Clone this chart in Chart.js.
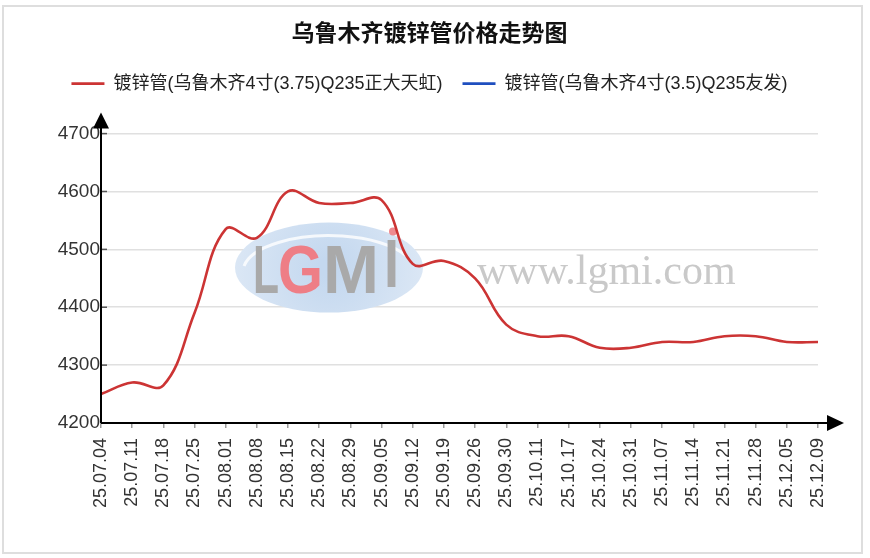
<!DOCTYPE html>
<html>
<head>
<meta charset="utf-8">
<title>乌鲁木齐镀锌管价格走势图</title>
<script src="https://cdn.jsdelivr.net/npm/chart.js@4.4.1/dist/chart.umd.min.js"></script>
<style>
  html, body { margin: 0; padding: 0; background: #fff; }
  #wrap { width: 870px; height: 558px; position: relative; }
</style>
</head>
<body>
<div id="wrap"><canvas id="priceChart"></canvas></div>
<script>
// дата / цены (юань за тонну)
const dates = [
  "25.07.04", "25.07.11", "25.07.18", "25.07.25", "25.08.01", "25.08.08",
  "25.08.15", "25.08.22", "25.08.29", "25.09.05", "25.09.12", "25.09.19",
  "25.09.26", "25.09.30", "25.10.11", "25.10.17", "25.10.24", "25.10.31",
  "25.11.07", "25.11.14", "25.11.21", "25.11.28", "25.12.05", "25.12.09"
];
const zhengdaPrices = [
  4250, 4270, 4265, 4390, 4535, 4520,
  4600, 4580, 4580, 4585, 4475, 4480,
  4450, 4370, 4350, 4350, 4330, 4330,
  4340, 4340, 4350, 4350, 4340, 4340
];
const youfaPrices = [];
const yMin = 4200;
const yMax = 4700;
const yStep = 100;

const FONT = '"Liberation Sans", "Noto Sans CJK SC", sans-serif';

// рамка вокруг всего графика
const framePlugin = {
  id: 'frame',
  beforeDraw(chart) {
    const ctx = chart.ctx;
    ctx.save();
    ctx.fillStyle = '#fff';
    ctx.fillRect(0, 0, chart.width, chart.height);
    ctx.strokeStyle = '#dedede';
    ctx.lineWidth = 2;
    ctx.strokeRect(3, 6, 859, 547);
    ctx.restore();
  }
};

// водяной знак LGMI
const watermarkPlugin = {
  id: 'watermark',
  beforeDatasetsDraw(chart) {
    const ctx = chart.ctx;
    const a = chart.chartArea;
    const cx = a.left + 228, cy = a.top + 134;
    ctx.save();
    const g = ctx.createRadialGradient(cx, cy, 10, cx, cy, 95);
    g.addColorStop(0, '#c4d8ef');
    g.addColorStop(1, '#dbe7f5');
    ctx.fillStyle = g;
    ctx.beginPath();
    ctx.ellipse(cx, cy, 94, 45, 0, 0, Math.PI * 2);
    ctx.fill();
    ctx.strokeStyle = 'rgba(255,255,255,0.8)';
    ctx.lineWidth = 3;
    ctx.beginPath();
    ctx.ellipse(cx, cy + 4, 86, 36, 0, Math.PI * 1.05, Math.PI * 1.85);
    ctx.stroke();

    ctx.font = 'bold 68px ' + FONT;
    ctx.textBaseline = 'alphabetic';
    const base = cy + 25;
    ctx.fillStyle = '#a9a9a9';
    ctx.fillText('L', cx - 76, base, 26);
    ctx.fillStyle = '#ee7e86';
    ctx.fillText('G', cx - 51, base, 45);
    ctx.fillStyle = '#a9a9a9';
    ctx.fillText('M', cx - 6, base, 56);
    ctx.fillText('I', cx + 55, base - 6, 15);
    ctx.fillStyle = '#ee8a90';
    ctx.beginPath();
    ctx.arc(cx + 64, cy - 36, 4, 0, Math.PI * 2);
    ctx.fill();

    ctx.font = '42px "Liberation Serif", "DejaVu Serif", serif';
    ctx.fillStyle = '#c9c9c9';
    ctx.fillText('www.lgmi.com', a.left + 376, a.top + 150, 260);
    ctx.restore();
  }
};

// оси со стрелками и мелкие засечки
const axesPlugin = {
  id: 'arrowAxes',
  afterDraw(chart) {
    const ctx = chart.ctx;
    const {left, right, top, bottom} = chart.chartArea;
    const ys = chart.scales.y;
    ctx.save();
    ctx.strokeStyle = '#555';
    ctx.lineWidth = 1.5;
    ys.ticks.forEach(function (t) {
      const y = ys.getPixelForValue(t.value);
      ctx.beginPath();
      ctx.moveTo(left, y);
      ctx.lineTo(left + 6, y);
      ctx.stroke();
    });
    ctx.strokeStyle = '#000';
    ctx.lineWidth = 2;
    ctx.beginPath();
    ctx.moveTo(left, bottom);
    ctx.lineTo(right + 10, bottom);
    ctx.moveTo(left, bottom);
    ctx.lineTo(left, top - 6);
    ctx.stroke();
    ctx.fillStyle = '#000';
    ctx.beginPath();
    ctx.moveTo(left, top - 21);
    ctx.lineTo(left - 8, top - 5);
    ctx.lineTo(left + 8, top - 5);
    ctx.closePath();
    ctx.fill();
    ctx.beginPath();
    ctx.moveTo(right + 26, bottom);
    ctx.lineTo(right + 9, bottom - 8);
    ctx.lineTo(right + 9, bottom + 8);
    ctx.closePath();
    ctx.fill();
    ctx.restore();
  }
};

const ctx = document.getElementById('priceChart').getContext('2d');
const priceChart = new Chart(ctx, {
  type: 'line',
  data: {
    labels: dates,
    datasets: [{
      label: '镀锌管(乌鲁木齐4寸(3.75)Q235正大天虹)',
      data: zhengdaPrices,
      borderColor: '#cc3434',
      backgroundColor: '#cc3434',
      borderWidth: 2.6,
      pointRadius: 0,
      tension: 0.4,
      fill: false
    }, {
      label: '镀锌管(乌鲁木齐4寸(3.5)Q235友发)',
      data: youfaPrices,
      borderColor: '#1f4fbf',
      backgroundColor: '#1f4fbf',
      borderWidth: 2.6,
      pointRadius: 0,
      tension: 0.4,
      fill: false
    }]
  },
  options: {
    responsive: true,
    maintainAspectRatio: false,
    animation: false,
    layout: { padding: { left: 41, right: 52, top: 8, bottom: 5 } },
    plugins: {
      title: {
        display: true,
        text: '乌鲁木齐镀锌管价格走势图',
        color: '#111',
        font: { family: FONT, size: 23, weight: 'bold' },
        padding: { top: 13, bottom: 6 }
      },
      legend: {
        display: true,
        labels: {
          color: '#222',
          font: { family: FONT, size: 18 },
          usePointStyle: true,
          pointStyle: 'line',
          pointStyleWidth: 33,
          padding: 20
        }
      },
      tooltip: { enabled: false }
    },
    scales: {
      x: {
        afterFit: function (s) { s.height = 130; },
        border: { display: false },
        grid: {
          drawOnChartArea: false,
          drawTicks: true,
          tickLength: 5,
          color: '#9a9a9a',
          lineWidth: 1.5
        },
        ticks: {
          autoSkip: false,
          minRotation: 90,
          maxRotation: 90,
          padding: 10,
          color: '#333',
          font: { family: FONT, size: 18 }
        }
      },
      y: {
        min: yMin,
        max: yMax,
        afterFit: function (s) { s.width = 60; },
        border: { display: false },
        grid: {
          drawTicks: false,
          color: '#e0e0e0',
          lineWidth: 1.5
        },
        ticks: {
          stepSize: yStep,
          padding: 1,
          color: '#333',
          font: { family: FONT, size: 19 },
          callback: function (v) { return String(v); }
        }
      },
      // пустая ось сверху — просто отступ между легендой и графиком
      top: {
        type: 'category',
        position: 'top',
        afterFit: function (s) { s.height = 31; },
        border: { display: false },
        grid: { display: false, drawTicks: false },
        ticks: { display: false }
      }
    }
  },
  plugins: [framePlugin, watermarkPlugin, axesPlugin]
});
</script>
</body>
</html>
